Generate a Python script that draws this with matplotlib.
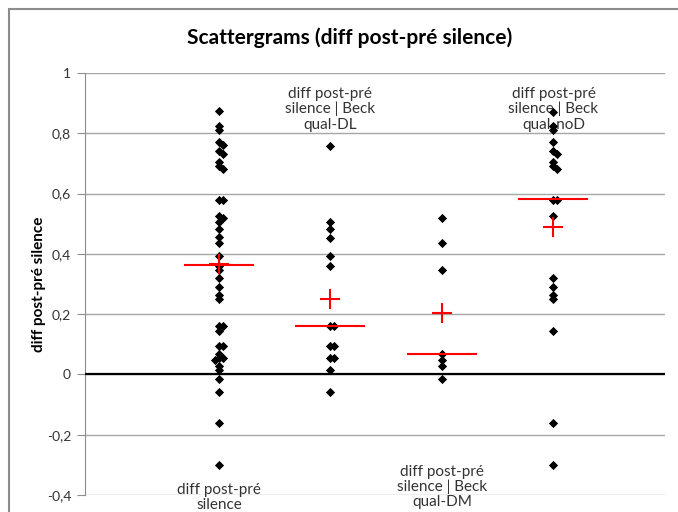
import matplotlib
matplotlib.use("Agg")
import matplotlib.pyplot as plt
from matplotlib.patches import Rectangle
from matplotlib.ticker import FuncFormatter

plt.rcParams['font.family'] = ['Lato', 'DejaVu Sans']

labels = ["diff post-pré\nsilence",
          "diff post-pré\nsilence | Beck\nqual-DL",
          "diff post-pré\nsilence | Beck\nqual-DM",
          "diff post-pré\nsilence | Beck\nqual-noD"]

all_vals = [0.875, 0.825, 0.81, 0.77, 0.76, 0.74, 0.73, 0.705, 0.69, 0.68,
            0.58, 0.58, 0.525, 0.52, 0.506, 0.482, 0.455, 0.437, 0.393, 0.36,
            0.345, 0.32, 0.29, 0.265, 0.25, 0.16, 0.16, 0.145, 0.093, 0.093,
            0.069, 0.054, 0.054, 0.049, 0.029, 0.015, -0.014, -0.059, -0.16, -0.30]
dl_vals = [0.758, 0.506, 0.482, 0.454, 0.393, 0.36, 0.16, 0.16, 0.093, 0.093,
           0.054, 0.054, 0.015, -0.059]
dm_vals = [0.52, 0.437, 0.345, 0.069, 0.049, 0.029, -0.014]
nod_vals = [0.87, 0.825, 0.81, 0.77, 0.74, 0.73, 0.705, 0.69, 0.68, 0.58,
            0.58, 0.525, 0.32, 0.29, 0.265, 0.25, 0.145, -0.16, -0.30]
groups = [all_vals, dl_vals, dm_vals, nod_vals]

medians = [0.362, 0.16, 0.069, 0.581]
means = [0.365, 0.249, 0.205, 0.489]


def dodge(vals, x0):
    # small side shift for points that sit on top of each other
    xs = []
    prev = None
    side = 1
    for v in sorted(vals, reverse=True):
        if prev is not None and abs(v - prev) < 0.012:
            xs.append(x0 + 0.035 * side)
            side = -side
        else:
            xs.append(x0)
            side = 1
        prev = v
    return xs, sorted(vals, reverse=True)


def main():
    fig = plt.figure(figsize=(6.78, 5.12), dpi=100)
    W, H = 678, 512
    ax = fig.add_axes([85 / W, 1 - 495 / H, 580 / W, 422 / H])

    # chart area border
    fig.patches.append(Rectangle((9 / W, -0.1), 1.2, 1 - 9 / H + 0.1,
                                 transform=fig.transFigure, fill=False,
                                 edgecolor='#8c8c8c', lw=1.5))

    for i, vals in enumerate(groups):
        x0 = i + 1
        xs, ys = dodge(vals, x0)
        ax.scatter(xs, ys, marker='D', s=22, color='black', zorder=4, lw=0)
        ax.plot([x0 - 0.305, x0 + 0.305], [medians[i], medians[i]],
                color='red', lw=1.5, zorder=5)
        ax.plot([x0], [means[i]], marker='+', color='red', ms=15, mew=1.5,
                zorder=5, ls='none')

    ax.set_xlim(-0.2, 5.0)
    ax.set_ylim(-0.4, 1.0)
    ax.set_yticks([-0.4, -0.2, 0, 0.2, 0.4, 0.6, 0.8, 1.0])
    ax.yaxis.set_major_formatter(FuncFormatter(
        lambda v, p: ('%g' % round(v, 1)).replace('.', ',')))
    ax.grid(axis='y', color='#a6a6a6', lw=1)
    ax.set_axisbelow(True)
    ax.axhline(0, color='black', lw=1.6, zorder=3)
    ax.set_xticks([])
    for s in ['top', 'right', 'bottom']:
        ax.spines[s].set_visible(False)
    ax.spines['left'].set_color('#8c8c8c')
    ax.tick_params(axis='y', length=6, color='#8c8c8c', labelsize=10,
                   labelcolor='#333333', pad=4)

    # category labels, alternating top / bottom
    for i, lab in enumerate(labels):
        x0 = i + 1
        if i % 2 == 1:
            ax.text(x0, 0.955, lab, ha='center', va='top', fontsize=11,
                    color='#333333', linespacing=1.12)
        else:
            ax.text(x0, -0.36 if i == 0 else -0.3, lab, ha='center',
                    va='top', fontsize=11, color='#333333', linespacing=1.08,
                    clip_on=False)

    ax.set_ylabel("diff post-pré silence", fontsize=11, fontweight='bold')
    ax.yaxis.set_label_coords(-0.068, 0.5)
    fig.text(350 / W, 1 - 38 / H, "Scattergrams (diff post-pré silence)",
             ha='center', va='center', fontsize=15, fontweight='bold')

    fig.savefig('out.png', dpi=100)


if __name__ == '__main__':
    main()
